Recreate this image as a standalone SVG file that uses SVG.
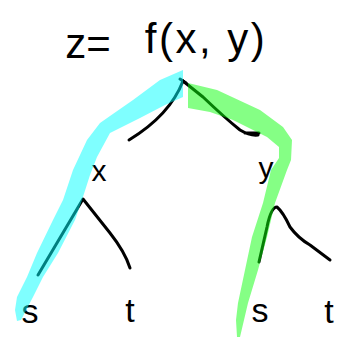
<svg xmlns="http://www.w3.org/2000/svg" width="344" height="341" viewBox="0 0 344 341">
<style>
.ink{fill:none;stroke:#000;stroke-width:3;stroke-linecap:round;stroke-linejoin:round}
.lbl{font-family:"Liberation Sans","DejaVu Sans",sans-serif;fill:#000;text-anchor:middle}
.hl-c{fill:#00FFFF;opacity:0.5}
.hl-g{fill:#0BFF0B;opacity:0.5}
</style>
<rect width="344" height="341" fill="#fff"/>
<g id="title">
<text class="lbl" x="88" y="58" font-size="42">z=</text>
<text class="lbl" x="206" y="53" font-size="42" letter-spacing="2.5">f(x, y)</text>
</g>
<g id="connectors">
<path class="ink" d="M183,81 Q170,115 129,140"/>
<path class="ink" d="M180,79 L186,83"/>
<path class="ink" d="M183,81 L203,97 Q225,118 240,130 Q250,136 258,135 M245,133 L259,133"/>
<path class="ink" d="M38,275 L83,199 L110,233 Q125,252 130,268"/>
<path class="ink" d="M259,262 L267,227 Q271,207 277,207 Q283,212 290,227 Q298,238 310,245 L330,260"/>
</g>
<g id="node-x"><text class="lbl" x="99" y="181" font-size="30">x</text></g>
<g id="node-y"><text class="lbl" x="266" y="178" font-size="30">y</text></g>
<g id="node-s1"><text class="lbl" x="30" y="323" font-size="34">s</text></g>
<g id="node-t1"><text class="lbl" x="130" y="322" font-size="34">t</text></g>
<g id="node-s2"><text class="lbl" x="260" y="322" font-size="34">s</text></g>
<g id="node-t2"><text class="lbl" x="329" y="323" font-size="34">t</text></g>
<g id="highlights">
<polygon class="hl-c" points="183,70 160,80 133,100 110,116 100,123 87,140 73,170 63,200 53,220 37,253 27,277 17,297 15,310 17,321 21,320 33,297 43,277 58,253 75,220 82,200 90,175 97,157 110,133 140,118 165,105 183,97"/>
<polygon class="hl-g" points="188,83 217,90 260,110 283,127 292,140 291,160 287,170 275,203 267,237 258,270 248,303 240,337 237,337 236,320 238,303 245,270 252,237 263,203 271,170 279,158 279,147 267,137 233,120 210,112 188,108"/>
</g>
</svg>
